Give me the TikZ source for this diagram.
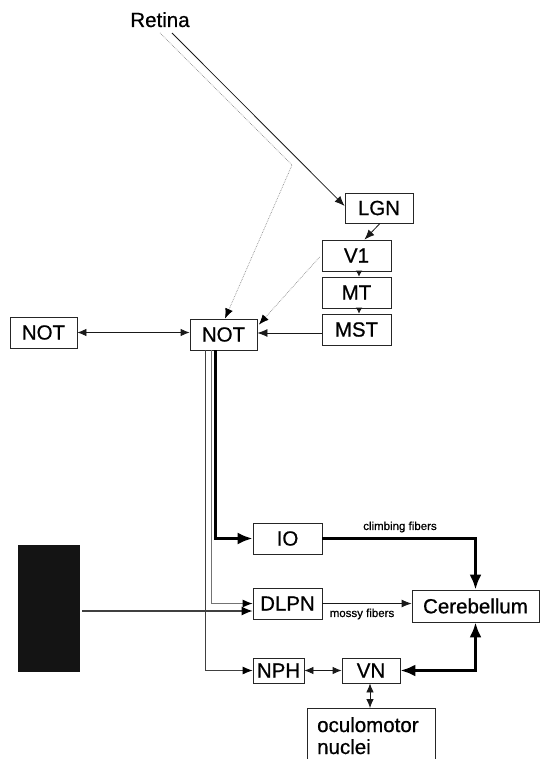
\documentclass[tikz,border=0pt]{standalone}
\usepackage{fontspec}
\setmainfont{Liberation Sans}
\newfontfamily\boxfont[FakeBold=0.7]{Liberation Sans}
\usetikzlibrary{arrows.meta,calc}
\begin{document}
\begin{tikzpicture}[x=1pt,y=-1pt,
  lbl/.style={font=\boxfont\fontsize{20.5}{23}\selectfont},
  box/.style={lbl, draw=black!85, line width=0.8pt, inner sep=0pt, minimum width=69pt, minimum height=31pt},
  small/.style={font=\boxfont\fontsize{11.5}{13}\selectfont},
  thinarr/.style={draw=black!90, line width=0.8pt, -{Latex[length=10pt,width=8pt]}},
  thinboth/.style={draw=black!90, line width=0.8pt, {Latex[length=9pt,width=7.5pt]}-{Latex[length=9pt,width=7.5pt]}},
  tinyarr/.style={draw=black!90, line width=0.8pt, -{Latex[length=6pt,width=6.5pt]}},
  thickarr/.style={draw=black, line width=3pt, -{Latex[length=15pt,width=12pt]}},
  thickboth/.style={draw=black, line width=3pt, {Latex[length=15pt,width=12pt]}-{Latex[length=15pt,width=12pt]}},
  dotarr/.style={draw=black!45, line width=0.7pt, densely dotted, -{Latex[length=10pt,width=8pt,color=black]}},
]
\useasboundingbox (0,0) rectangle (540,759);

% labels and boxes
\node[lbl, anchor=base] (retina) at (160,27) {Retina};
\node[box, minimum width=68pt, minimum height=30pt] (lgn) at (379,208) {LGN};
\node[box] (v1) at (356.5,255.5) {V1};
\node[box] (mt) at (356.5,292.5) {MT};
\node[box] (mst) at (356.5,329.5) {MST};
\node[box, minimum width=67pt] (not) at (223.5,334.5) {NOT};
\node[box, minimum width=67pt] (notl) at (43.5,332.5) {NOT};
\node[box] (io) at (287.5,538.5) {IO};
\node[box] (dlpn) at (287.5,603.5) {DLPN};
\node[box, minimum width=127pt, minimum height=32pt] (cereb) at (475.5,606) {Cerebellum};
\node[box, minimum width=51pt, minimum height=25pt] (nph) at (278.5,670.5) {NPH};
\node[box, minimum width=58pt, minimum height=25pt] (vn) at (371,670.5) {VN};
\node[anchor=north west, inner sep=0pt, minimum width=128pt, minimum height=51pt] (ocu) at (307,708) {};
\draw[draw=black!85, line width=0.8pt] (ocu.south west) -- (ocu.north west) -- (ocu.north east) -- (ocu.south east);
\node[lbl, anchor=base west, inner sep=0pt] (ocutext1) at (317,732) {oculomotor};
\node[lbl, anchor=base west, inner sep=0pt] (ocutext2) at (317,754) {nuclei};
\fill[black!92] (18,545) rectangle (80,672);
\node[inner sep=0pt, minimum width=62pt, minimum height=127pt] (blk) at (49,608.5) {};

% small labels
\node[small] (climb) at (400,527) {climbing fibers};
\node[small] (mossy) at (362,614) {mossy fibers};

% top connectors
\coordinate (r1) at (172,33);
\coordinate (r2) at (160,33);
\coordinate (rb) at (292,165);
\draw[thinarr] (r1) -- ($(lgn.west)+(0,-2)$);
\draw[dotarr] (r2) -- (rb) -- ($(not.north)+(1.5,0)$);
\draw[dotarr] ($(v1.west)+(-2,1.5)$) -- ($(not.north east)+(1.5,6)$);
\draw[thinarr] (lgn.south) ++(1,0) -- ($(v1.north)+(8,0)$);
\draw[tinyarr] ($(v1.south)+(2.5,0)$) -- ($(mt.north)+(2.5,0)$);
\draw[tinyarr] ($(mt.south)+(2.5,0)$) -- ($(mst.north)+(2.5,0)$);
\draw[thinarr] ($(mst.west)+(0,3.5)$) -- ($(not.east)+(0,-1.5)$);
\draw[thinboth] (notl.east) -- (notl.east -| not.west);

% descending from NOT
\draw[thickarr, line width=2.8pt] ($(not.south west)+(26,0)$) |- (io.west);
\draw[draw=black!55, line width=1pt, -{Latex[length=10pt,width=8pt,color=black]}] ($(not.south west)+(22,0)$) |- (dlpn.west);
\draw[draw=black!75, line width=0.9pt, -{Latex[length=10pt,width=8pt,color=black]}] ($(not.south west)+(16,0)$) |- (nph.west);

% black box to DLPN
\coordinate (blkout) at (82,611);
\draw[draw=black!75, line width=1.3pt, -{Latex[length=11pt,width=9pt,color=black]}] (blkout) -- (blkout -| dlpn.west);

% cerebellar connections
\draw[thickarr] (io.east) -| (cereb.north);
\draw[thinarr] (dlpn.east) -- (dlpn.east -| cereb.west);
\draw[thickboth] (cereb.south) |- (vn.east);
\draw[thinboth] (nph.east) -- (vn.west);
\draw[thinboth] ($(vn.south)+(-1,0)$) -- ($(ocu.north west)+(63,0)$);
\end{tikzpicture}
\end{document}
